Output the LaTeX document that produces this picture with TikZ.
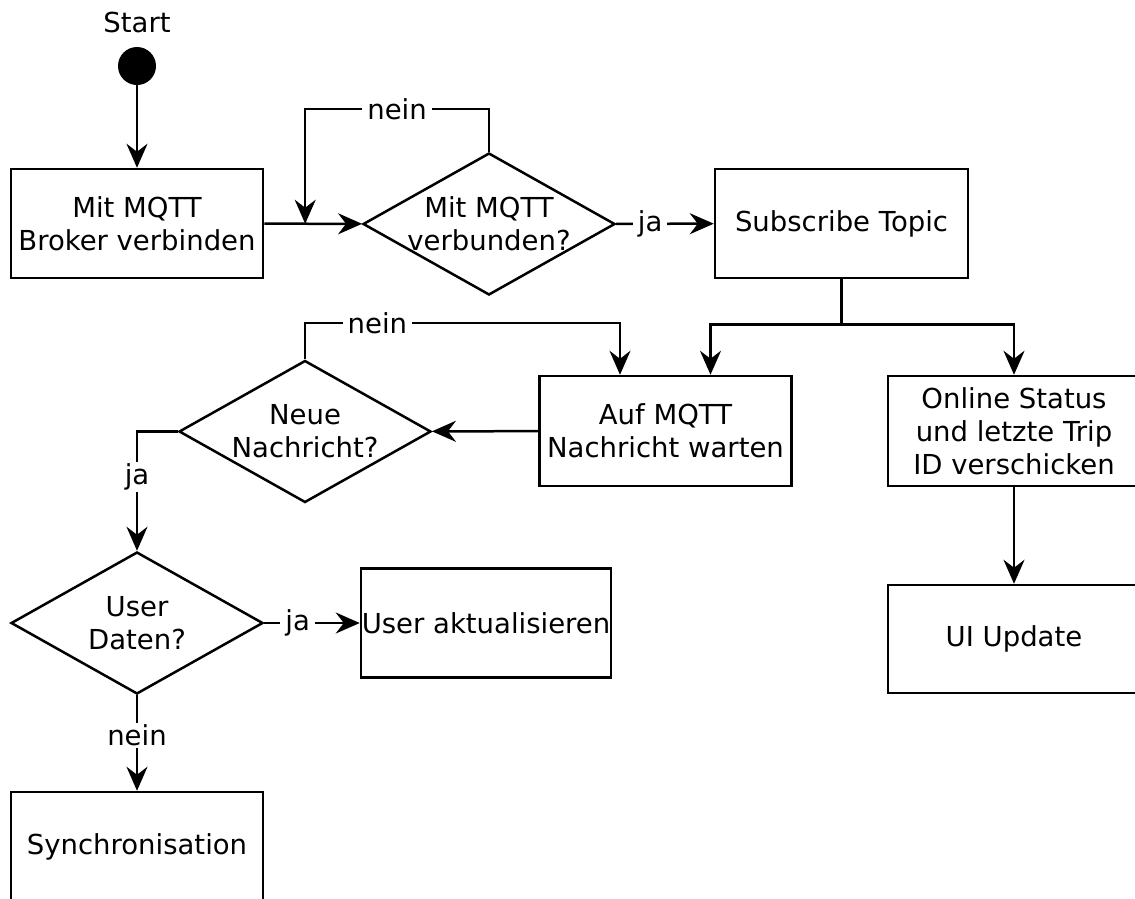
\documentclass[tikz,border=0pt]{standalone}
\usepackage{fontspec}
\setmainfont{DejaVu Sans}
\usetikzlibrary{shapes.geometric,arrows.meta,calc}

\begin{document}
\begin{tikzpicture}[x=1pt,y=-1pt,
  every node/.style={font=\fontsize{27.5}{33}\selectfont},
  box/.style={draw, line width=2.5pt, rectangle, minimum width=252pt,
    minimum height=109pt, align=center, inner sep=0pt},
  decision/.style={draw, line width=2.5pt, diamond, shape aspect=1.76,
    minimum width=252pt, minimum height=142pt, align=center, inner sep=-10pt},
  flow/.style={line width=2.5pt, -{Stealth[length=24pt,width=21pt,inset=8pt]}},
  plain/.style={line width=2.5pt},
  lbl/.style={fill=white, inner xsep=5pt, inner ysep=2pt}]

\useasboundingbox (0,0) rectangle (1135,898);

% start marker
\node (starttxt) at (137,22) {Start};
\node[circle, fill=black, minimum size=38pt, inner sep=0pt] (init) at (137,66) {};

% process boxes
\node[box] (b1)  at (137,223.5) {Mit MQTT\\Broker verbinden};
\node[box, minimum width=253pt] (sub) at (841.5,223.5) {Subscribe Topic};
\node[box, minimum height=110pt] (auf) at (665.5,431) {Auf MQTT\\Nachricht warten};
\node[box, minimum height=110pt] (onl) at (1014,431) {Online Status\\und letzte Trip\\ID verschicken};
\node[box, minimum height=108pt] (ui)  at (1014,639) {UI Update};
\node[box, minimum width=250pt] (usr) at (486,623) {User aktualisieren};
\node[box, minimum height=110pt] (syn) at (137,847) {Synchronisation};

% decisions
\node[decision] (d1) at (489,224) {Mit MQTT\\verbunden?};
\node[decision] (d2) at (305,431.5) {Neue\\Nachricht?};
\node[decision] (d3) at (137,623) {User\\Daten?};

% junction points
\coordinate (m1) at ($(b1.east)!0.42!(d1.west)$);
\coordinate (sp) at ($(sub.south)+(0,45)$);
\coordinate (c2) at (620,323);

% connectors
\draw[flow] (init) -- (b1);
\draw[flow] (b1) -- (d1);
\draw[flow] (d1.north) -- ++(0,-43) -| node[lbl,pos=0.25]{nein} (m1);
\draw[flow] (d1) -- node[lbl,pos=0.35]{ja} (sub);
\draw[plain] (sub.south) -- (sp);
\draw[flow] (sp) -| ($(auf.north)+(45,0)$);
\draw[flow] (sp) -| (onl.north);
\draw[flow] (onl) -- (ui);
\draw[flow] (auf) -- (d2);
\draw[flow] (d2.north) |- node[lbl,pos=0.615]{nein} (c2) -- (c2 |- auf.north);
\draw[flow] (d2.west) -| node[lbl,pos=0.69]{ja} (d3.north);
\draw[flow] (d3) -- node[lbl,pos=0.35]{ja} (usr);
\draw[flow] (d3) -- node[lbl,pos=0.42]{nein} (syn);

\end{tikzpicture}
\end{document}
